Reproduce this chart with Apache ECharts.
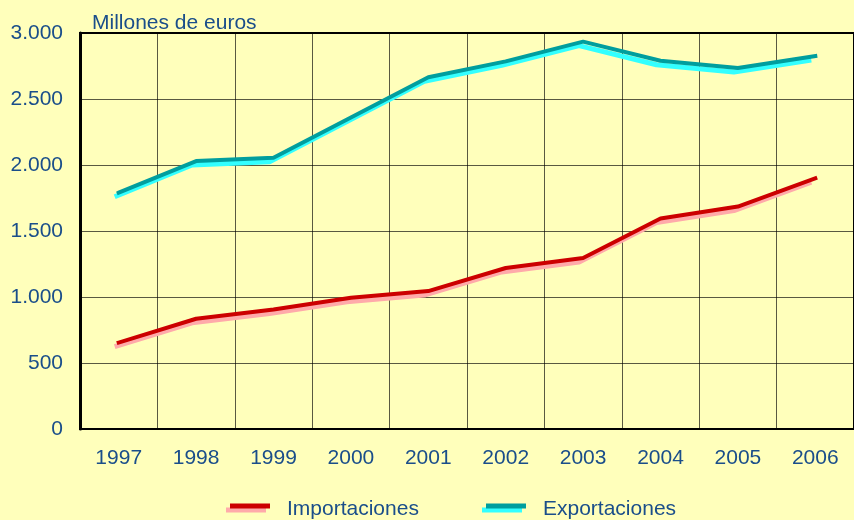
<!DOCTYPE html>
<html><head><meta charset="utf-8">
<script src="https://cdn.jsdelivr.net/npm/echarts@6/dist/echarts.min.js"></script>
<style>html,body{margin:0;padding:0;background:#FFFFBB;}#c{width:854px;height:520px;}</style>
</head><body><div id="c"></div>
<script>
var years = ['1997','1998','1999','2000','2001','2002','2003','2004','2005','2006'];
var importaciones = [655, 835, 905, 995, 1045, 1220, 1295, 1595, 1685, 1900];
var exportaciones = [1790, 2030, 2055, 2360, 2665, 2785, 2935, 2790, 2735, 2825];
var yTicks = [0, 500, 1000, 1500, 2000, 2500, 3000];

var txt = '#1A4E8A';
var font = 'Liberation Sans, Arial, sans-serif';
var fs = 21;
var chart = echarts.init(document.getElementById('c'), null, {renderer:'canvas'});
function fmt(v){ return String(v).replace(/\B(?=(\d{3})+(?!\d))/g, '.'); }
var yMax = yTicks[yTicks.length-1], yStep = yTicks[1]-yTicks[0];
var legIcon = 'path://M0,0H40V5H0Z M0,11.99H0.01V12H0Z';
function leg(left, name, dark, light) {
  return {left: left, top: 494, icon: legIcon, itemWidth: 40, itemHeight: 12, itemGap: 0,
    textStyle: {color: txt, fontFamily: font, fontSize: fs, padding: [0,0,0,12]},
    data: [{name: name, itemStyle: {color: dark, shadowColor: light, shadowBlur: 0, shadowOffsetX: -4, shadowOffsetY: 4}}]};
}
chart.setOption({
  backgroundColor: '#FFFFBB',
  animation: false,
  title: {text: 'Millones de euros', left: 87, top: 8,
    textStyle: {color: txt, fontFamily: font, fontSize: fs, fontWeight: 'normal'}},
  legend: [
    leg(225, 'Importaciones', '#CC0000', '#FFAAAA'),
    leg(481, 'Exportaciones', '#009E9E', '#33FFFF')
  ],
  grid: [
    {left: 80, top: 33, right: 0, bottom: 91, show: true, borderColor: '#000', borderWidth: 2, backgroundColor: 'transparent'},
    {left: 76, top: 37, right: 4, bottom: 87, show: false}
  ],
  xAxis: [
    {type: 'category', data: years, gridIndex: 0, boundaryGap: true,
     axisLine: {lineStyle: {color: '#000', width: 2}}, axisTick: {show: false},
     axisLabel: {color: txt, fontFamily: font, fontSize: fs, margin: 19},
     splitLine: {show: true, lineStyle: {color: 'rgba(0,0,0,0.65)', width: 1}}},
    {type: 'category', data: years, gridIndex: 1, boundaryGap: true, show: false}
  ],
  yAxis: [
    {type: 'value', gridIndex: 0, min: 0, max: yMax, interval: yStep,
     axisLine: {show: true, lineStyle: {color: '#000', width: 3}}, axisTick: {show: false},
     axisLabel: {color: txt, fontFamily: font, fontSize: fs, margin: 17, formatter: fmt},
     splitLine: {show: true, lineStyle: {color: 'rgba(0,0,0,0.65)', width: 1}}},
    {type: 'value', gridIndex: 1, min: 0, max: yMax, interval: yStep, show: false, splitLine: {show: false}}
  ],
  series: [
    {name: 'Importaciones', type: 'line', xAxisIndex: 1, yAxisIndex: 1, data: importaciones, symbol: 'none', z: 2,
     lineStyle: {color: '#FFAAAA', width: 5}, itemStyle: {color: '#FFAAAA'}, silent: true},
    {name: 'Exportaciones', type: 'line', xAxisIndex: 1, yAxisIndex: 1, data: exportaciones, symbol: 'none', z: 2,
     lineStyle: {color: '#33FFFF', width: 5}, itemStyle: {color: '#33FFFF'}, silent: true},
    {name: 'Importaciones', type: 'line', xAxisIndex: 0, yAxisIndex: 0, data: importaciones, symbol: 'none', z: 3,
     lineStyle: {color: '#CC0000', width: 4, cap: 'square'}, itemStyle: {color: '#CC0000'}},
    {name: 'Exportaciones', type: 'line', xAxisIndex: 0, yAxisIndex: 0, data: exportaciones, symbol: 'none', z: 3,
     lineStyle: {color: '#009E9E', width: 4, cap: 'square'}, itemStyle: {color: '#009E9E'}}
  ]
});
</script></body></html>
